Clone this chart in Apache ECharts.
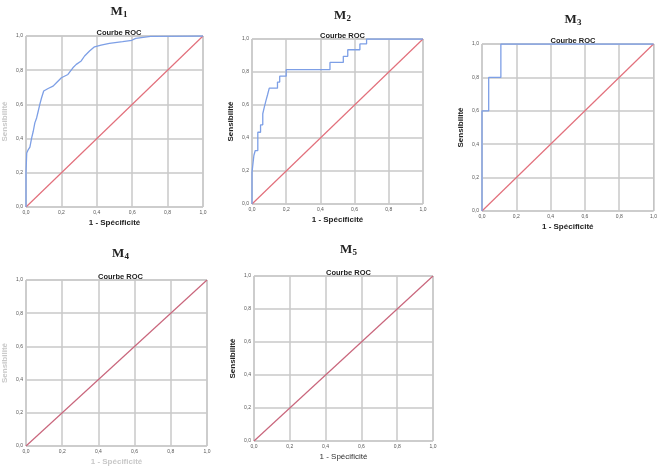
<!DOCTYPE html>
<html>
<head>
<meta charset="utf-8">
<script src="https://cdn.jsdelivr.net/npm/echarts@6/dist/echarts.min.js"></script>
<style>
  html, body { margin: 0; padding: 0; background: #fff; }
  #chart { width: 660px; height: 469px; }
</style>
</head>
<body>
<div id="chart"></div>
<script>
// tick labels (both axes)
var tickLabels = ['0,0', '0,2', '0,4', '0,6', '0,8', '1,0'];

// reference line
var diagX = [0, 1];
var diagY = [0, 1];

// M1 curve
var m1X = [0, 0, 0.004, 0.013, 0.022, 0.032, 0.041, 0.05, 0.06, 0.069, 0.078, 0.088, 0.1, 0.125, 0.153, 0.172, 0.2, 0.237, 0.265, 0.284, 0.312, 0.331, 0.359, 0.387, 0.424, 0.471, 0.546, 0.598, 0.62, 0.704, 1];
var m1Y = [0, 0.2, 0.316, 0.336, 0.35, 0.404, 0.443, 0.492, 0.521, 0.56, 0.6, 0.639, 0.678, 0.693, 0.707, 0.727, 0.756, 0.775, 0.814, 0.834, 0.854, 0.883, 0.912, 0.937, 0.947, 0.957, 0.967, 0.975, 0.986, 0.998, 1];

// M2 curve (steps)
var m2X = [0, 0, 0.011, 0.019, 0.034, 0.05, 0.063, 0.072, 0.082, 0.091, 0.101, 0.149, 0.162, 0.2, 0.456, 0.534, 0.56, 0.631, 0.67, 1];
var m2Y = [0, 0.192, 0.294, 0.324, 0.435, 0.48, 0.547, 0.587, 0.628, 0.662, 0.702, 0.739, 0.775, 0.814, 0.858, 0.895, 0.935, 0.97, 1, 1];

// M3 curve (steps)
var m3X = [0, 0, 0.039, 0.11, 1];
var m3Y = [0, 0.6, 0.8, 1, 1];

var panels = [
  { sub: '1', grid: { left: 25, top: 36, width: 178, height: 171 }, mTop: 0, curve: [m1X, m1Y], step: false, yName: 'faded', xName: 'bold', diag: '#e2707c' },
  { sub: '2', grid: { left: 252, top: 39, width: 171, height: 165 }, mTop: 4, curve: [m2X, m2Y], step: 'end', yName: 'bold', xName: 'bold', diag: '#e2707c' },
  { sub: '3', grid: { left: 482, top: 44, width: 172, height: 167 }, mTop: 8, curve: [m3X, m3Y], step: 'end', yName: 'bold', xName: 'bold', diag: '#e2707c' },
  { sub: '4', grid: { left: 24, top: 280, width: 183, height: 166 }, mTop: 242, curve: null, yName: 'faded', xName: 'faded', diag: '#c9667c' },
  { sub: '5', grid: { left: 254, top: 276, width: 179, height: 165 }, mTop: 238, curve: null, yName: 'bold', xName: 'normal', diag: '#c9667c' }
];

function nameStyle(kind) {
  if (kind === 'faded') return { color: '#c8c8c8', fontWeight: 'bold', fontSize: 8 };
  if (kind === 'normal') return { color: '#333', fontWeight: 'normal', fontSize: 8 };
  return { color: '#222', fontWeight: 'bold', fontSize: 8 };
}

function pairs(xs, ys) {
  return xs.map(function (x, i) { return [x, ys[i]]; });
}

var fmt = function (v) { return tickLabels[Math.round(v / 0.2)]; };

var grids = [], xAxes = [], yAxes = [], series = [], titles = [];
panels.forEach(function (p, i) {
  var g = p.grid;
  grids.push({ left: g.left, top: g.top, width: g.width, height: g.height, show: true, borderColor: '#b5b5b5', borderWidth: 1 });
  xAxes.push({
    type: 'value', gridIndex: i, min: 0, max: 1, interval: 0.2,
    name: '1 - Spécificité', nameLocation: 'middle', nameGap: 12,
    nameTextStyle: nameStyle(p.xName),
    axisLine: { show: false }, axisTick: { show: false },
    axisLabel: { formatter: fmt, fontSize: 5, color: '#555', margin: 3 },
    splitLine: { lineStyle: { color: '#c8c8c8', width: 1.5 } }
  });
  yAxes.push({
    type: 'value', gridIndex: i, min: 0, max: 1, interval: 0.2,
    name: 'Sensibilité', nameLocation: 'middle', nameGap: 17, nameRotate: 90,
    nameTextStyle: nameStyle(p.yName),
    axisLine: { show: false }, axisTick: { show: false },
    axisLabel: { formatter: fmt, fontSize: 5, color: '#555', margin: 3 },
    splitLine: { lineStyle: { color: '#c8c8c8', width: 1.5 } }
  });
  titles.push({
    text: '{m|M}{s|' + p.sub + '}',
    left: g.left + g.width / 2, top: p.mTop, textAlign: 'center',
    textStyle: { rich: {
      m: { fontFamily: 'Liberation Serif', fontWeight: 'bold', fontSize: 13, color: '#222' },
      s: { fontFamily: 'Liberation Serif', fontWeight: 'bold', fontSize: 9, color: '#222', verticalAlign: 'bottom', padding: [5, 0, 0, 0] }
    } }
  });
  titles.push({
    text: 'Courbe ROC',
    left: g.left + g.width / 2, top: g.top - 12, textAlign: 'center',
    textStyle: { fontSize: 7.5, fontWeight: 'bold', color: '#222', fontFamily: 'Liberation Sans' }
  });
  series.push({
    type: 'line', xAxisIndex: i, yAxisIndex: i, data: pairs(diagX, diagY),
    showSymbol: false, silent: true, lineStyle: { color: p.diag, width: 1.2 }, z: 3
  });
  if (p.curve) {
    series.push({
      type: 'line', xAxisIndex: i, yAxisIndex: i, data: pairs(p.curve[0], p.curve[1]),
      step: p.step, showSymbol: false, silent: true, lineStyle: { color: '#7d9fe6', width: 1.3 }, z: 4
    });
  }
});

var chart = echarts.init(document.getElementById('chart'));
chart.setOption({
  backgroundColor: '#fff',
  animation: false,
  textStyle: { fontFamily: 'Liberation Sans' },
  title: titles,
  grid: grids,
  xAxis: xAxes,
  yAxis: yAxes,
  series: series
});
</script>
</body>
</html>
